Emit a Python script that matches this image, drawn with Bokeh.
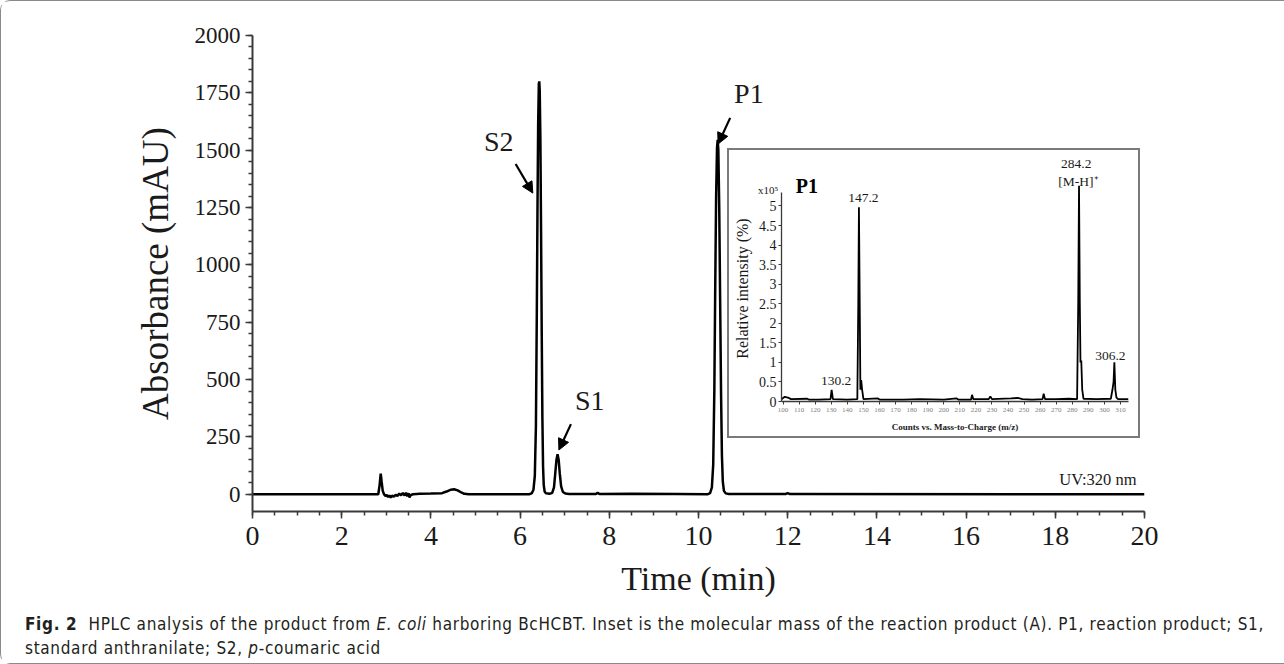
from bokeh.plotting import figure
from bokeh.models import (Range1d, FixedTicker, Label, Arrow, NormalHead, Div,
                          NumeralTickFormatter)
from bokeh.layouts import column
from bokeh.embed import file_html
from bokeh.resources import INLINE

# ---------------- data ----------------
# HPLC chromatogram (time in min, absorbance in mAU)
hplc_time = [0.0, 2.82, 2.85, 2.875, 2.895, 2.92, 2.95, 2.98, 3.01, 3.04, 3.07, 3.10, 3.13,
             3.17, 3.21, 3.25, 3.29, 3.33, 3.37, 3.41, 3.44, 3.47, 3.50, 3.52, 3.55, 3.60,
             3.75, 4.0, 4.25, 4.35, 4.45, 4.52, 4.60, 4.68, 4.75, 4.85,
             6.20, 6.26, 6.30, 6.33, 6.355, 6.375, 6.39, 6.405, 6.42, 6.43, 6.44, 6.455,
             6.47, 6.485, 6.50, 6.515, 6.53, 6.55, 6.58, 6.62,
             6.66, 6.72, 6.76, 6.79, 6.815, 6.84, 6.865, 6.89, 6.92, 6.96, 7.02, 7.10,
             7.70, 7.74, 7.78, 8.5, 9.5,
             10.20, 10.26, 10.30, 10.33, 10.355, 10.375, 10.395, 10.415, 10.43, 10.445,
             10.465, 10.485, 10.505, 10.525, 10.545, 10.57, 10.61, 10.68,
             11.95, 12.0, 12.05, 20.0]
hplc_abs = [0, 0, 40, 90, 55, 15, 0, -8, -3, -12, -5, -14, -6,
            -10, -2, -7, 3, -4, 6, -5, 7, -9, 4, -14, -3, 0,
            2, 3, 5, 12, 20, 22, 17, 8, 2, 0,
            0, 4, 20, 80, 300, 800, 1250, 1620, 1790, 1800, 1760, 1550,
            1150, 700, 330, 120, 40, 12, 4, 3,
            2, 6, 30, 95, 150, 175, 150, 90, 35, 10, 3, 1,
            1, 6, 1, 2, 1,
            0, 5, 30, 130, 450, 900, 1300, 1510, 1545, 1500,
            1250, 850, 450, 170, 55, 15, 4, 1,
            1, 5, 1, 0]

# Mass spectrum of P1 (m/z, intensity x10^5)
ms_mz = [99, 101, 103, 105, 115, 116, 122, 129.5, 130.2, 131, 140, 146.2, 146.8, 147.2, 147.7,
         148.1, 148.6, 149.2, 150, 159, 160, 175, 185, 200, 208, 209, 217, 217.6, 218.4,
         228, 229, 230, 242, 246, 249, 255, 261.5, 262.2, 263, 270, 278, 283, 283.7, 284.2,
         284.7, 285.1, 285.6, 286.2, 287, 295, 304, 305, 305.7, 306.2, 306.8, 307.5, 308.5, 315]
ms_int = [0.06, 0.12, 0.10, 0.06, 0.07, 0.05, 0.05, 0.06, 0.30, 0.06, 0.05, 0.06, 2.5, 4.97, 2.5,
          0.30, 0.55, 0.30, 0.06, 0.08, 0.05, 0.05, 0.06, 0.05, 0.08, 0.05, 0.05, 0.17, 0.06,
          0.06, 0.13, 0.06, 0.08, 0.09, 0.06, 0.05, 0.06, 0.20, 0.06, 0.06, 0.07, 0.06, 2.5, 5.52,
          2.5, 1.0, 1.05, 0.30, 0.07, 0.06, 0.07, 0.30, 0.50, 1.0, 0.30, 0.10, 0.06, 0.06]

main_x_ticks = list(range(0, 21, 2))
main_x_minor = [i * 0.5 for i in range(0, 41)]
main_y_ticks = list(range(0, 2001, 250))
main_y_minor = list(range(0, 2001, 50))
ms_x_ticks = list(range(100, 311, 10))
ms_y_ticks = [0, 0.5, 1, 1.5, 2, 2.5, 3, 3.5, 4, 4.5, 5]

peak_names = ["S2", "S1", "P1"]
ms_peak_labels = ["147.2", "306.2", "130.2"]
ms_top_labels = ["284.2", "[M-H]\u207a", "x10\u2075"]

caption_html = ('<span style="font-weight:bold">Fig. 2</span>&nbsp; HPLC analysis of the product from '
                '<i>E. coli</i> harboring BcHCBT. Inset is the molecular mass of the reaction product (A). '
                'P1, reaction product; S1,<br>standard anthranilate; S2, <i>p</i>-coumaric acid')

SERIF = "Liberation Serif"
AX = "#3a3a3a"
TXT = "#1a1a1a"

# ---------------- main chromatogram ----------------
p = figure(width=1284, height=664, x_range=Range1d(0, 20), y_range=Range1d(-75, 2000),
           output_backend="svg", toolbar_location=None,
           min_border_left=251, min_border_right=141, min_border_top=34, min_border_bottom=154)
p.outline_line_color = None
p.grid.visible = False
p.background_fill_color = "white"
p.border_fill_color = "white"
p.styles = {"border-left": "1px solid #8a8a8a", "border-top": "1px solid #8a8a8a",
            "border-bottom": "1px solid #8a8a8a", "border-radius": "10px 0 0 10px"}

p.line(hplc_time, hplc_abs, line_color="black", line_width=2.5)

xa = p.xaxis[0]
xa.ticker = FixedTicker(ticks=main_x_ticks, minor_ticks=main_x_minor)
xa.axis_label = "Time (min)"
ya = p.yaxis[0]
ya.ticker = FixedTicker(ticks=main_y_ticks, minor_ticks=main_y_minor)
ya.axis_label = "Absorbance (mAU)"
for ax in (xa, ya):
    ax.axis_line_color = AX
    ax.axis_line_width = 2
    ax.major_tick_line_color = AX
    ax.minor_tick_line_color = AX
    ax.major_tick_line_width = 1.5
    ax.minor_tick_line_width = 1.5
    ax.major_tick_in = 0
    ax.minor_tick_in = 0
    ax.major_tick_out = 7
    ax.minor_tick_out = 4
    ax.major_label_text_font = SERIF
    ax.axis_label_text_font = SERIF
    ax.axis_label_text_font_style = "normal"
    ax.axis_label_text_color = TXT
    ax.major_label_text_color = TXT
    ax.axis_label_text_font_size = "34px"
xa.major_label_text_font_size = "28px"
xa.major_label_standoff = 8
xa.axis_label_standoff = 12
ya.major_label_text_font_size = "23px"
ya.major_label_standoff = 5
ya.axis_label_standoff = 16
ya.axis_label_text_font_size = "37px"

label_pos = {"S2": (5.52, 1536), "S1": (7.56, 407), "P1": (11.13, 1746)}
for name in peak_names:
    lx, ly = label_pos[name]
    p.add_layout(Label(x=lx, y=ly, text=name, text_font=SERIF, text_font_size="28px",
                       text_align="center", text_baseline="middle", text_color=TXT))

arrows = [(5.90, 1440, 6.285, 1313), (7.14, 306, 6.87, 193), (10.71, 1641, 10.44, 1527)]
for xs, ys, xe, ye in arrows:
    p.add_layout(Arrow(end=NormalHead(size=11, fill_color="black", line_color="black", line_width=1),
                       x_start=xs, y_start=ys, x_end=xe, y_end=ye,
                       line_color="black", line_width=2.2))

p.add_layout(Label(x=19.82, y=22, text="UV:320 nm", text_font=SERIF, text_font_size="16.5px",
                   text_align="right", text_baseline="bottom", text_color=TXT))

# texts of the inset that sit above / left of the inset frame (drawn under the transparent inset)
top_pos = [(18.47, 1440, "13.5px"), (18.52, 1365, "13.5px"), (11.56, 1326, "11px")]
for t, (lx, ly, fs) in zip(ms_top_labels, top_pos):
    p.add_layout(Label(x=lx, y=ly, text=t, text_font=SERIF, text_font_size=fs,
                       text_align="center", text_baseline="middle", text_color=TXT))

# ---------------- inset mass spectrum ----------------
ins = figure(width=413, height=290, x_range=Range1d(99, 315), y_range=Range1d(0, 5.78),
             output_backend="svg", toolbar_location=None,
             min_border_left=52, min_border_right=14, min_border_top=25, min_border_bottom=39)
ins.styles = {"border": "2px solid #7a7a7a"}
ins.outline_line_color = None
ins.grid.visible = False
ins.background_fill_alpha = 0
ins.border_fill_alpha = 0
ins.line(ms_mz, ms_int, line_color="black", line_width=1.8)

ixa = ins.xaxis[0]
ixa.ticker = FixedTicker(ticks=ms_x_ticks)
ixa.axis_label = "Counts vs. Mass-to-Charge (m/z)"
ixa.axis_label_text_font_size = "9px"
ixa.axis_label_text_font_style = "bold"
ixa.major_label_text_font_size = "7px"
ixa.major_label_text_color = "#808080"
ixa.major_label_standoff = 3
ixa.axis_label_standoff = 7
iya = ins.yaxis[0]
iya.ticker = FixedTicker(ticks=ms_y_ticks)
iya.formatter = NumeralTickFormatter(format="0.[0]")
iya.bounds = (0, 5.35)
iya.axis_label = "Relative intensity (%)"
iya.axis_label_text_font_size = "16px"
iya.axis_label_text_font_style = "normal"
iya.major_label_text_font_size = "14px"
iya.major_label_standoff = 2
iya.axis_label_standoff = 5
for ax in (ixa, iya):
    ax.axis_line_color = AX
    ax.axis_line_width = 1.3
    ax.major_tick_line_color = AX
    ax.minor_tick_line_color = None
    ax.major_tick_in = 0
    ax.major_tick_out = 3
    ax.major_label_text_font = SERIF
    ax.axis_label_text_font = SERIF
    ax.axis_label_text_color = TXT
iya.major_label_text_color = TXT

ins.add_layout(Label(x=114.8, y=5.52, text="P1", text_font=SERIF, text_font_size="20px",
                     text_font_style="bold", text_align="center", text_baseline="middle",
                     text_color="black"))
ms_label_pos = [(150.0, 5.21), (303.7, 1.17), (133.0, 0.52)]
for t, (lx, ly) in zip(ms_peak_labels, ms_label_pos):
    ins.add_layout(Label(x=lx, y=ly, text=t, text_font=SERIF, text_font_size="13.5px",
                         text_align="center", text_baseline="middle", text_color=TXT))

inset_box = column(ins, margin=(-516, 0, 0, 727))

# ---------------- caption ----------------
cap = Div(text=caption_html, width=1255, height=48, margin=(174, 0, 0, 25),
          styles={"font-family": "'Liberation Sans Narrow', 'DejaVu Sans Condensed', 'Roboto Condensed', sans-serif",
                  "font-size": "17px", "line-height": "24px", "color": "#231f20",
                  "letter-spacing": "0.67px", "white-space": "nowrap"})

layout = column(p, inset_box, cap, spacing=0)
open("out.html", "w").write(file_html(layout, INLINE))
